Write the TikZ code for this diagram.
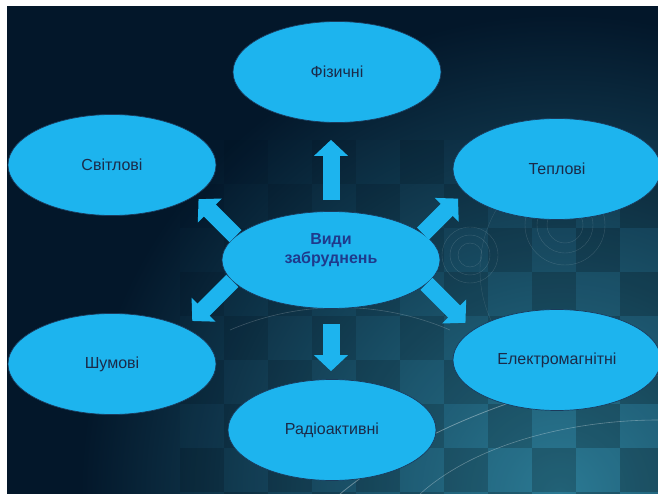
\documentclass[tikz,border=0pt]{standalone}
\usepackage{fontspec}
\setmainfont{Liberation Sans}
\usetikzlibrary{shapes.geometric,arrows.meta}
\definecolor{bgdark}{HTML}{03172A}
\definecolor{glow}{HTML}{2B7A94}
\definecolor{sky}{HTML}{1DB4EE}
\definecolor{inktext}{HTML}{1B2A48}
\definecolor{inkblue}{HTML}{1F3A8C}
\definecolor{rimline}{HTML}{1A3A5C}
\begin{document}
\begin{tikzpicture}[x=1pt,y=-1pt,
  kind/.style={ellipse,draw=rimline,line width=0.7pt,fill=sky,inner sep=0pt,
    minimum width=208pt,minimum height=101pt,text=inktext,font=\fontsize{16}{19}\selectfont},
  blockarrow/.style={draw=sky,line width=17pt,-{Triangle[width=33pt,length=16pt]}}]
\useasboundingbox (0,0) rectangle (658,494);
% backdrop
\fill[white] (0,0) rectangle (658,494);
\fill[bgdark] (7,6) rectangle (658,494);
\begin{scope}
\clip (7,6) rectangle (658,494);
\shade[inner color=glow,outer color=bgdark] (560,494) circle[radius=480];
\foreach \i in {0,...,10}
  \foreach \j in {0,...,8} {
    \pgfmathtruncatemacro\odd{mod(\i+\j,2)}
    \pgfmathsetmacro\op{0.03+0.2*(\i+\j)/18}
    \ifnum\odd=1
      \fill[black,opacity=\op] (180+44*\i,140+44*\j) rectangle ++(44,44);
    \else
      \fill[glow,opacity=0.4*\op] (180+44*\i,140+44*\j) rectangle ++(44,44);
    \fi
  }
\foreach \r in {12,20,28} \draw[white,opacity=0.15] (470,255) circle[radius=\r];
\foreach \r in {18,28,40} \draw[white,opacity=0.15] (565,225) circle[radius=\r];
\draw[white,opacity=0.12] (600,270) circle[radius=120];
\draw[white,opacity=0.35,line width=0.8] (340,494) .. controls (430,420) and (540,390) .. (658,360);
\draw[white,opacity=0.3,line width=0.6] (420,494) .. controls (480,440) and (580,420) .. (658,420);
\draw[white,opacity=0.2,line width=0.6] (230,330) .. controls (300,300) and (380,300) .. (450,330);
\end{scope}
% ellipses
\node[kind] (f) at (337,72) {Фізичні};
\node[kind] (s) at (112,165) {Світлові};
\node[kind] (t) at (557,169) {Теплові};
\node[kind] (sh) at (112,364) {Шумові};
\node[kind] (e) at (557,360) {Електромагнітні};
\node[kind] (r) at (332,430) {Радіоактивні};
\node[kind,minimum width=218pt,minimum height=97pt] (c) at (331,260) {};
\node[align=center,text=inkblue,font=\bfseries\fontsize{16}{19}\selectfont] (ctext) at (331,250) {Види\\забруднень};
% arrows
\draw[blockarrow,shorten <=11pt,shorten >=17pt] (c.north) -- (c.north |- f.south);
\draw[blockarrow,shorten <=15pt,shorten >=8pt] (c.south) -- (c.south |- r.north);
\draw[blockarrow] (c.166) -- ++(-37,-37);
\draw[blockarrow] (c.16) -- ++(35,-35);
\draw[blockarrow] (c.192) -- ++(-40,40);
\draw[blockarrow] (c.346) -- ++(39,39);
\end{tikzpicture}
\end{document}
